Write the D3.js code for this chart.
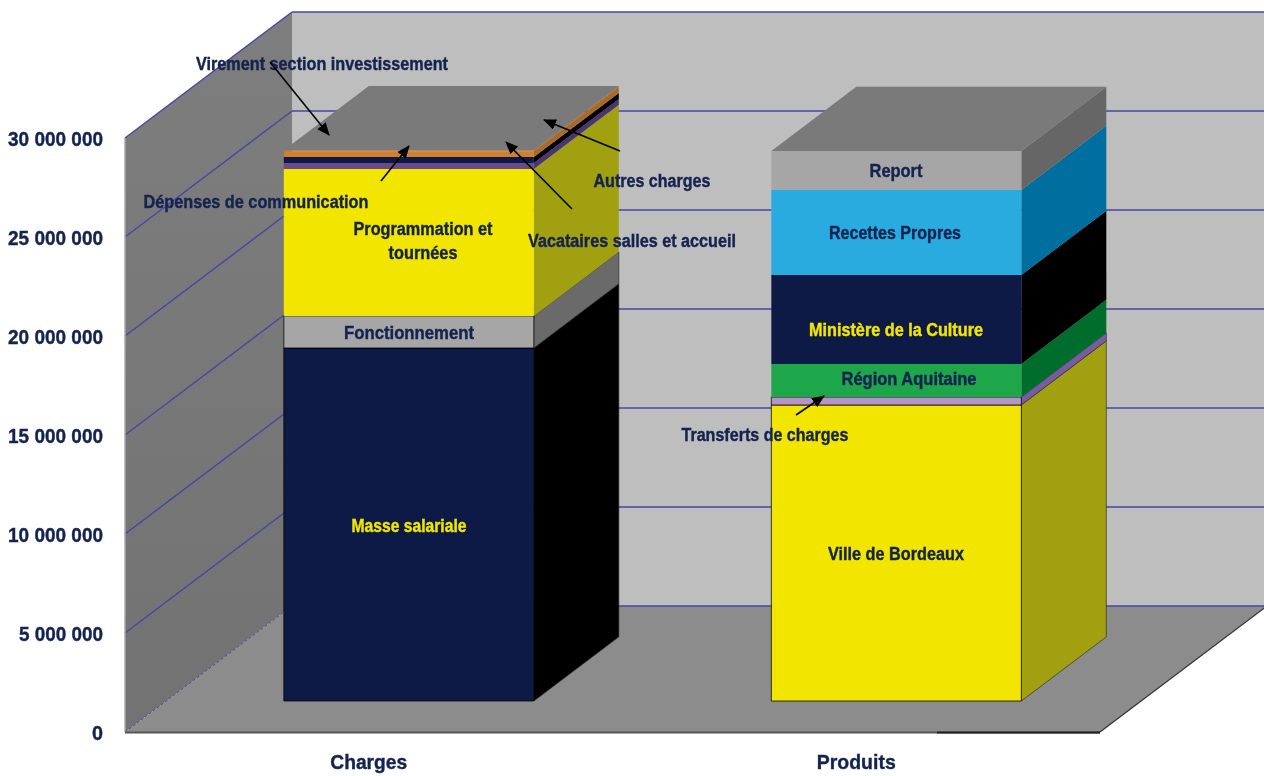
<!DOCTYPE html>
<html>
<head>
<meta charset="utf-8">
<script src="https://cdn.jsdelivr.net/npm/d3@7"></script>
<style>
html,body{margin:0;padding:0;background:#fff;overflow:hidden}
text{font-family:"Liberation Sans",Arial,sans-serif;font-weight:bold}
svg{filter:blur(0.4px)}
</style>
</head>
<body>
<div id="chart"></div>
<script>
var categories = ["Charges", "Produits"];
var tickValues = [0, 5000000, 10000000, 15000000, 20000000, 25000000, 30000000];
var tickLabels = ["0", "5 000 000", "10 000 000", "15 000 000", "20 000 000", "25 000 000", "30 000 000"];

// bas de pile -> haut de pile
var chargesNames = ["Masse salariale", "Fonctionnement", "Programmation et tournées", "Vacataires salles et accueil", "Dépenses de communication", "Autres charges", "Virement section investissement"];
var chargesValues = [17830000, 1620000, 7420000, 300000, 300000, 300000, 50000];
var produitsNames = ["Ville de Bordeaux", "Transferts de charges", "Région Aquitaine", "Ministère de la Culture", "Recettes Propres", "Report"];
var produitsValues = [14950000, 400000, 1670000, 4500000, 4290000, 1970000];

var chargesFront = ["#0c1a45", "#a6a6a6", "#f2e600", "#6a4a8c", "#0c1a45", "#d08030", "#d08030"];
var chargesSide = ["#000000", "#6a6a6a", "#a0a010", "#4a3570", "#000000", "#a86a28", "#a86a28"];
var chargesEdge = [1, 1, 0, 0, 0, 0, 0];
var produitsFront = ["#f2e600", "#b595c8", "#1ea64a", "#0c1a45", "#2aabe0", "#a6a6a6"];
var produitsSide = ["#a0a010", "#7a5aa0", "#006d2c", "#000000", "#006f9f", "#666666"];
var produitsEdge = [1, 1, 0, 0, 0, 0];

var width = 1264, height = 776;
var plotLeft = 125, plotRight = 1100, plotBottom = 732, plotTop = 138;
var depthX = 167, depthY = 126;
var barZ0 = 0.246, barZ1 = 0.755, barWidth = 250, barShift = -1;
var gridColor = "#4646a6", navy = "#14234f";

var x = d3.scaleBand().domain(categories).range([plotLeft, plotRight]);
var y = d3.scaleLinear().domain([0, 30000000]).range([plotBottom, plotTop]);

// projection oblique : px, valeur, profondeur (0 devant, 1 au fond)
function proj(px, v, z) {
    return [px + z * depthX, y(v) - z * depthY];
}
function poly(pts) {
    return pts.map(function (p) { return p.join(","); }).join(" ");
}

var svg = d3.select("#chart").append("svg")
    .attr("width", width).attr("height", height).style("display", "block");

var defs = svg.append("defs");
var wallGrad = defs.append("linearGradient").attr("id", "wall").attr("x1", 0).attr("y1", 0).attr("x2", 0).attr("y2", 1);
wallGrad.append("stop").attr("offset", "0%").attr("stop-color", "#7e7e7e");
wallGrad.append("stop").attr("offset", "100%").attr("stop-color", "#727272");
defs.append("marker").attr("id", "arrow").attr("viewBox", "0 0 12 10").attr("refX", 11).attr("refY", 5)
    .attr("markerWidth", 13).attr("markerHeight", 11).attr("markerUnits", "userSpaceOnUse").attr("orient", "auto")
    .append("path").attr("d", "M0,0L12,5L0,10Z").attr("fill", "#000");

var yMax = 30000000;
// mur du fond
svg.append("polygon").attr("fill", "#bebebe")
    .attr("points", poly([proj(plotLeft, yMax, 1), [width, proj(plotLeft, yMax, 1)[1]], [width, proj(plotLeft, 0, 1)[1]], proj(plotLeft, 0, 1)]));
// mur gauche
svg.append("polygon").attr("fill", "url(#wall)")
    .attr("points", poly([proj(plotLeft, yMax, 0), proj(plotLeft, yMax, 1), proj(plotLeft, 0, 1), proj(plotLeft, 0, 0)]));
// sol
svg.append("polygon").attr("fill", "#8c8c8c")
    .attr("points", poly([proj(plotLeft, 0, 0), proj(plotRight, 0, 0), proj(plotRight, 0, 1), proj(plotLeft, 0, 1)]));

// grille
tickValues.forEach(function (v) {
    var a = proj(plotLeft, v, 0), b = proj(plotLeft, v, 1);
    svg.append("line").attr("x1", a[0]).attr("y1", a[1]).attr("x2", b[0]).attr("y2", b[1])
        .attr("stroke", gridColor).attr("stroke-width", v === 0 ? 1 : 1.4).attr("stroke-dasharray", v === 0 ? "3,2" : null);
    svg.append("line").attr("x1", b[0]).attr("y1", b[1]).attr("x2", width).attr("y2", b[1])
        .attr("stroke", gridColor).attr("stroke-width", 1.6);
});

// bords
var fl = proj(plotLeft, 0, 0), fr = proj(plotRight, 0, 0), br = proj(plotRight, 0, 1);
svg.append("line").attr("x1", plotLeft).attr("y1", y(yMax)).attr("x2", plotLeft).attr("y2", fl[1]).attr("stroke", "#a8a8a8").attr("stroke-width", 1.5);
svg.append("line").attr("x1", fl[0]).attr("y1", fl[1] + 0.5).attr("x2", fr[0]).attr("y2", fr[1] + 0.5).attr("stroke", "#555").attr("stroke-width", 2);
svg.append("line").attr("x1", 937).attr("y1", fl[1] + 0.5).attr("x2", fr[0]).attr("y2", fr[1] + 0.5).attr("stroke", "#222").attr("stroke-width", 2);
svg.append("line").attr("x1", fr[0]).attr("y1", fr[1]).attr("x2", br[0]).attr("y2", br[1]).attr("stroke", "#333").attr("stroke-width", 1.2);

// barres empilées
function drawBar(cat, values, front, side, edge) {
    var stack = d3.stack().keys(d3.range(values.length)).value(function (d, k) { return d[k]; })([values]);
    var xc = x(cat) + x.bandwidth() / 2 + barShift;
    var x0 = xc - barWidth / 2, x1 = xc + barWidth / 2;
    var g = svg.append("g");
    g.selectAll("polygon.side").data(stack).enter().append("polygon").attr("class", "side")
        .attr("fill", function (s, i) { return side[i]; })
        .attr("stroke", function (s, i) { return edge[i] ? "#222" : "none"; })
        .attr("stroke-opacity", 0.6).attr("stroke-width", 1)
        .attr("points", function (s) {
            return poly([proj(x1, s[0][0], barZ0), proj(x1, s[0][0], barZ1), proj(x1, s[0][1], barZ1), proj(x1, s[0][1], barZ0)]);
        });
    g.selectAll("polygon.front").data(stack).enter().append("polygon").attr("class", "front")
        .attr("fill", function (s, i) { return front[i]; })
        .attr("stroke", function (s, i) { return edge[i] ? "#000" : "none"; })
        .attr("stroke-opacity", 0.75).attr("stroke-width", 1)
        .attr("points", function (s) {
            return poly([proj(x0, s[0][0], barZ0), proj(x1, s[0][0], barZ0), proj(x1, s[0][1], barZ0), proj(x0, s[0][1], barZ0)]);
        });
    var total = d3.sum(values);
    g.append("polygon").attr("fill", "#7a7a7a")
        .attr("points", poly([proj(x0, total, barZ0), proj(x1, total, barZ0), proj(x1, total, barZ1), proj(x0, total, barZ1)]));
}
drawBar(categories[0], chargesValues, chargesFront, chargesSide, chargesEdge);
drawBar(categories[1], produitsValues, produitsFront, produitsSide, produitsEdge);

// axe des valeurs
var axis = d3.axisLeft(y).tickValues(tickValues).tickSize(0).tickPadding(22)
    .tickFormat(function (d, i) { return tickLabels[i]; });
var axisG = svg.append("g").attr("transform", "translate(" + plotLeft + ",0)").call(axis);
axisG.select(".domain").remove();
axisG.selectAll("text").attr("font-size", 20).attr("fill", navy)
    .attr("font-family", "Liberation Sans").attr("dy", "0.36em")
    .attr("textLength", function (d) { return d === 0 ? 11 : d < 10000000 ? 84 : 95; })
    .attr("lengthAdjust", "spacingAndGlyphs");

// axe des catégories
var catAxis = d3.axisBottom(x).tickSize(0).tickPadding(22);
var catG = svg.append("g").attr("transform", "translate(0," + plotBottom + ")").call(catAxis);
catG.select(".domain").remove();
catG.selectAll("text").attr("font-size", 21).attr("fill", navy).attr("font-family", "Liberation Sans")
    .attr("textLength", function (d) { return d === "Charges" ? 77 : 79; })
    .attr("lengthAdjust", "spacingAndGlyphs");

// étiquettes : texte, centre x, ligne de base y, largeur, couleur
var labels = [
    ["Masse salariale", 409, 532, 115, "#f2e600"],
    ["Fonctionnement", 409, 339, 130, navy],
    ["Programmation et", 423, 235, 139, navy],
    ["tournées", 423, 259, 69, navy],
    ["Report", 896, 177, 53, navy],
    ["Recettes Propres", 895, 239, 132, navy],
    ["Ministère de la Culture", 896, 336, 174, "#f2e600"],
    ["Région Aquitaine", 909, 385, 135, navy],
    ["Ville de Bordeaux", 896, 560, 136, navy],
    ["Virement section investissement", 322, 70, 252, navy],
    ["Dépenses de communication", 256, 208, 225, navy],
    ["Autres charges", 652, 187, 117, navy],
    ["Vacataires salles et accueil", 632, 247, 208, navy],
    ["Transferts de charges", 765, 441, 167, navy]
];
svg.append("g").selectAll("text").data(labels).enter().append("text")
    .attr("x", function (d) { return d[1]; })
    .attr("y", function (d) { return d[2]; })
    .attr("text-anchor", "middle")
    .attr("font-size", 18)
    .attr("fill", function (d) { return d[4]; })
    .attr("textLength", function (d) { return d[3]; })
    .attr("lengthAdjust", "spacingAndGlyphs")
    .text(function (d) { return d[0]; });

// texte un peu plus gras, comme sur l'original
svg.selectAll("text")
    .attr("stroke", function () { return d3.select(this).attr("fill"); })
    .attr("stroke-width", 0.4);

// flèches d'annotation
var arrows = [
    [270, 62, 329, 135],
    [381, 181, 409, 146],
    [572, 209, 506, 142],
    [620, 151, 544, 120],
    [796, 415, 824, 396]
];
svg.append("g").selectAll("line").data(arrows).enter().append("line")
    .attr("x1", function (d) { return d[0]; })
    .attr("y1", function (d) { return d[1]; })
    .attr("x2", function (d) { return d[2]; })
    .attr("y2", function (d) { return d[3]; })
    .attr("stroke", "#000").attr("stroke-width", 1.6)
    .attr("marker-end", "url(#arrow)");
</script>
</body>
</html>
